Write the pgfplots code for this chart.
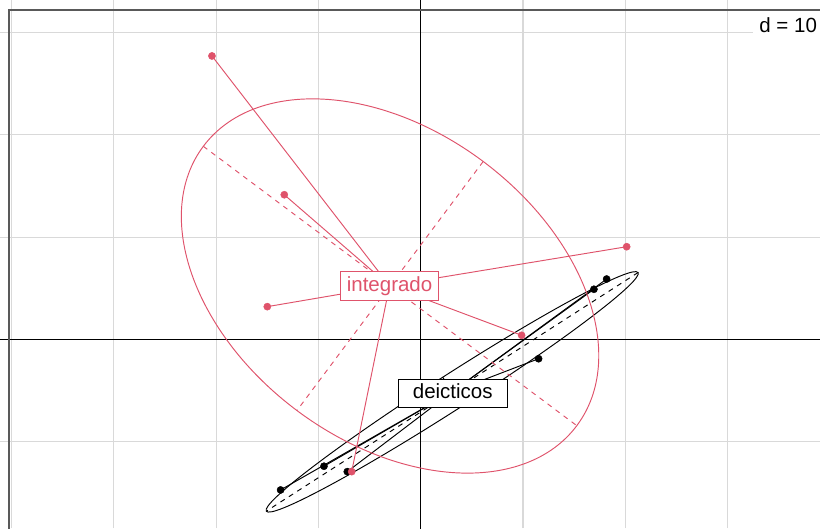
\documentclass[border=0pt]{standalone}
\usepackage{pgfplots}
\pgfplotsset{compat=1.18}
\usepackage{fontspec}
\setmainfont{Liberation Sans}
\definecolor{ared}{HTML}{DF536B}
\definecolor{gridg}{HTML}{D9D9D9}
\begin{document}
\begin{tikzpicture}
\begin{axis}[
 width=820pt, height=528pt, scale only axis,
 xmin=-41.13, xmax=39.03, ymin=-18.44, ymax=33.18,
 axis line style={draw=none},
 xtick={-40,-30,-20,-10,10,20,30}, ytick={-10,10,20,30},
 xticklabels={}, yticklabels={},
 major tick length=0pt,
 grid=major, grid style={gridg, line width=1.1pt},
]
% axes through the origin
\addplot[black, line width=1pt] coordinates {(-50,0) (50,0)};
\addplot[black, line width=1pt] coordinates {(0,-30) (0,40)};
% frame
\addplot[black!65, line width=1.8pt] coordinates {(-40.25,-30) (-40.25,32.2) (50,32.2)};

% ---------- deicticos (black) ----------
\draw[black, line width=0.95pt] (axis cs:3.07,-5.13) ellipse [x radius=220.9pt, y radius=17.4pt, rotate=32.7];
\addplot[black, line width=0.95pt, dash pattern=on 5pt off 5pt] coordinates {(21.25,6.54) (-15.11,-16.80)};
\addplot[black, line width=0.95pt, dash pattern=on 5pt off 5pt] coordinates {(2.15,-3.70) (3.99,-6.56)};
\addplot[black, line width=0.95pt] coordinates {(3.07,-5.13) (-13.70,-14.72)};
\addplot[black, line width=0.95pt] coordinates {(3.07,-5.13) (-9.46,-12.40)};
\addplot[black, line width=0.95pt] coordinates {(3.07,-5.13) (-7.18,-12.93)};
\addplot[black, line width=0.95pt] coordinates {(3.07,-5.13) (11.52,-1.89)};
\addplot[black, line width=0.95pt] coordinates {(3.07,-5.13) (16.93,4.90)};
\addplot[black, line width=0.95pt] coordinates {(3.07,-5.13) (18.17,5.90)};
\addplot[only marks, mark=*, mark size=3.6pt, black] coordinates {
 (-13.70,-14.72) (-9.46,-12.40) (-7.18,-12.93) (11.52,-1.89) (16.93,4.90) (18.17,5.90)};

% ---------- integrado (red) ----------
\draw[ared, line width=0.95pt] (axis cs:-3.0,5.22) ellipse [x radius=233.2pt, y radius=155.5pt, rotate=-36.8];
\addplot[ared, line width=0.95pt, dash pattern=on 5pt off 5pt] coordinates {(-21.26,18.88) (15.26,-8.44)};
\addplot[ared, line width=0.95pt, dash pattern=on 5pt off 5pt] coordinates {(6.10,17.39) (-12.10,-6.95)};
\addplot[ared, line width=0.95pt] coordinates {(-3.05,5.24) (-20.41,27.71)};
\addplot[ared, line width=0.95pt] coordinates {(-3.05,5.24) (-13.34,14.14)};
\addplot[ared, line width=0.95pt] coordinates {(-3.05,5.24) (-15.00,3.20)};
\addplot[ared, line width=0.95pt] coordinates {(-3.05,5.24) (20.13,9.06)};
\addplot[ared, line width=0.95pt] coordinates {(-3.05,5.24) (9.86,0.40)};
\addplot[ared, line width=0.95pt] coordinates {(-3.05,5.24) (-6.75,-12.93)};
\addplot[only marks, mark=*, mark size=3.6pt, ared] coordinates {
 (-20.41,27.71) (-13.34,14.14) (-15.00,3.20) (20.13,9.06) (9.86,0.40) (-6.75,-12.93)};

% ---------- labels ----------
\node[draw=black, fill=white, text=black, line width=0.9pt, minimum width=109pt,
  text height=15pt, text depth=4.5pt, inner ysep=4.5pt, inner xsep=3pt,
  font=\fontsize{20.5}{24}\selectfont] at (axis cs:3.13,-5.30) {deicticos};
\node[draw=ared, fill=white, text=ared, line width=0.9pt, minimum width=97.6pt,
  text height=15pt, text depth=4.5pt, inner ysep=5pt, inner xsep=3pt,
  font=\fontsize{20.5}{24}\selectfont] at (axis cs:-3.05,5.24) {integrado};
\node[fill=white, text=black, anchor=west, inner xsep=6pt,
  text height=15pt, text depth=4.5pt, inner ysep=6pt,
  font=\fontsize{20.5}{24}\selectfont] at (axis cs:32.5,30.47) {d = 10};
\end{axis}
\pgfresetboundingbox
\useasboundingbox (current axis.south west) rectangle (current axis.north east);
\end{tikzpicture}
\end{document}
